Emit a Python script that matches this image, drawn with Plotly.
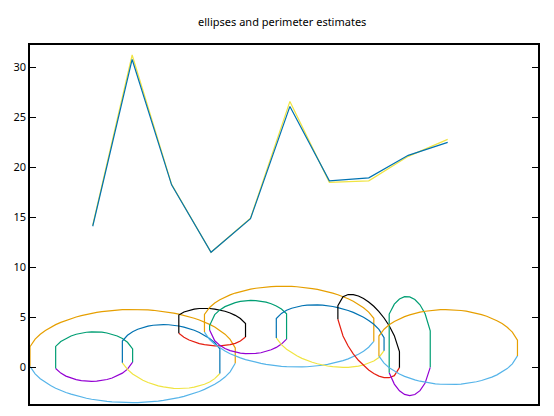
import numpy as np
import plotly.graph_objects as go

# perimeter estimates for the ten ellipses (two methods)
idx = list(range(1, 11))
est_a = [14.2, 31.25, 18.3, 11.5, 14.9, 26.6, 18.5, 18.65, 21.1, 22.8]
est_b = [14.1, 30.8, 18.25, 11.5, 14.85, 26.1, 18.65, 18.95, 21.2, 22.5]

# ellipses: centre, half width, half height, tilt (shift of mid line at the edge)
ell_cx = [1, 2, 3, 4, 5, 6, 7, 8, 9, 10]
ell_cy = [1.05, 1.1, 1.05, 4.0, 4.0, 4.05, 3.1, 3.1, 2.1, 2.0]
ell_rx = [1.05, 2.65, 1.33, 0.94, 1.04, 2.22, 1.42, 0.8, 0.6, 1.81]
ell_ry = [2.48, 4.67, 3.16, 1.85, 2.67, 4.03, 3.02, 3.41, 4.95, 3.75]
ell_tilt = [0.1, 0.05, -0.5, -0.34, 0.07, -0.34, -0.83, -2.42, -0.33, -0.1]

# gnuplot default line colours
purple, green, skyblue, orange = '#9400D3', '#009E73', '#56B4E9', '#E69F00'
yellow, blue, red, black = '#F0E442', '#0072B2', '#E51E10', '#000000'
pairs = [(purple, green), (skyblue, orange), (yellow, blue), (red, black)]

x_lo, x_hi = -0.59, 12.29
y_lo, y_hi = -3.7, 32.25
xs = np.linspace(x_lo, x_hi, 100)

fig = go.Figure()

for i in range(len(ell_cx)):
    u = (xs - ell_cx[i]) / ell_rx[i]
    inside = np.abs(u) < 1
    xi = xs[inside]
    ui = u[inside]
    half = ell_ry[i] * np.sqrt(1 - ui ** 2)
    mid = ell_cy[i] + ell_tilt[i] * ui
    top = mid + half
    bot = mid - half
    c_bot, c_top = pairs[i % 4]
    fig.add_trace(go.Scatter(x=xi, y=bot, mode='lines',
                             line=dict(color=c_bot, width=1.2)))
    fig.add_trace(go.Scatter(x=np.r_[xi[0], xi, xi[-1]],
                             y=np.r_[bot[0], top, bot[-1]], mode='lines',
                             line=dict(color=c_top, width=1.2)))

fig.add_trace(go.Scatter(x=idx, y=est_a, mode='lines',
                         line=dict(color=yellow, width=1.2)))
fig.add_trace(go.Scatter(x=idx, y=est_b, mode='lines',
                         line=dict(color=blue, width=1.2)))

# the page body adds an 8px offset, margins compensate for it
fig.update_layout(
    width=554, height=416,
    margin=dict(l=21.5, r=23.7, t=37, b=19.5),
    paper_bgcolor='white', plot_bgcolor='white',
    showlegend=False,
    font=dict(family='Noto Sans', size=11, color='black'),
    title=dict(text='ellipses and perimeter estimates', x=0.495, xanchor='center',
               y=0.966, yanchor='middle', font=dict(size=11)),
    xaxis=dict(range=[x_lo, x_hi], showticklabels=False, ticks='',
               showgrid=False, zeroline=False, showline=True, mirror=True,
               linecolor='black', linewidth=1.5, automargin=False),
    yaxis=dict(range=[y_lo, y_hi], tick0=0, dtick=5, ticks='inside', ticklen=6,
               tickcolor='black', showgrid=False, zeroline=False, showline=True,
               mirror='ticks', linecolor='black', linewidth=1.5, automargin=False),
)

fig.write_html("out.html")
